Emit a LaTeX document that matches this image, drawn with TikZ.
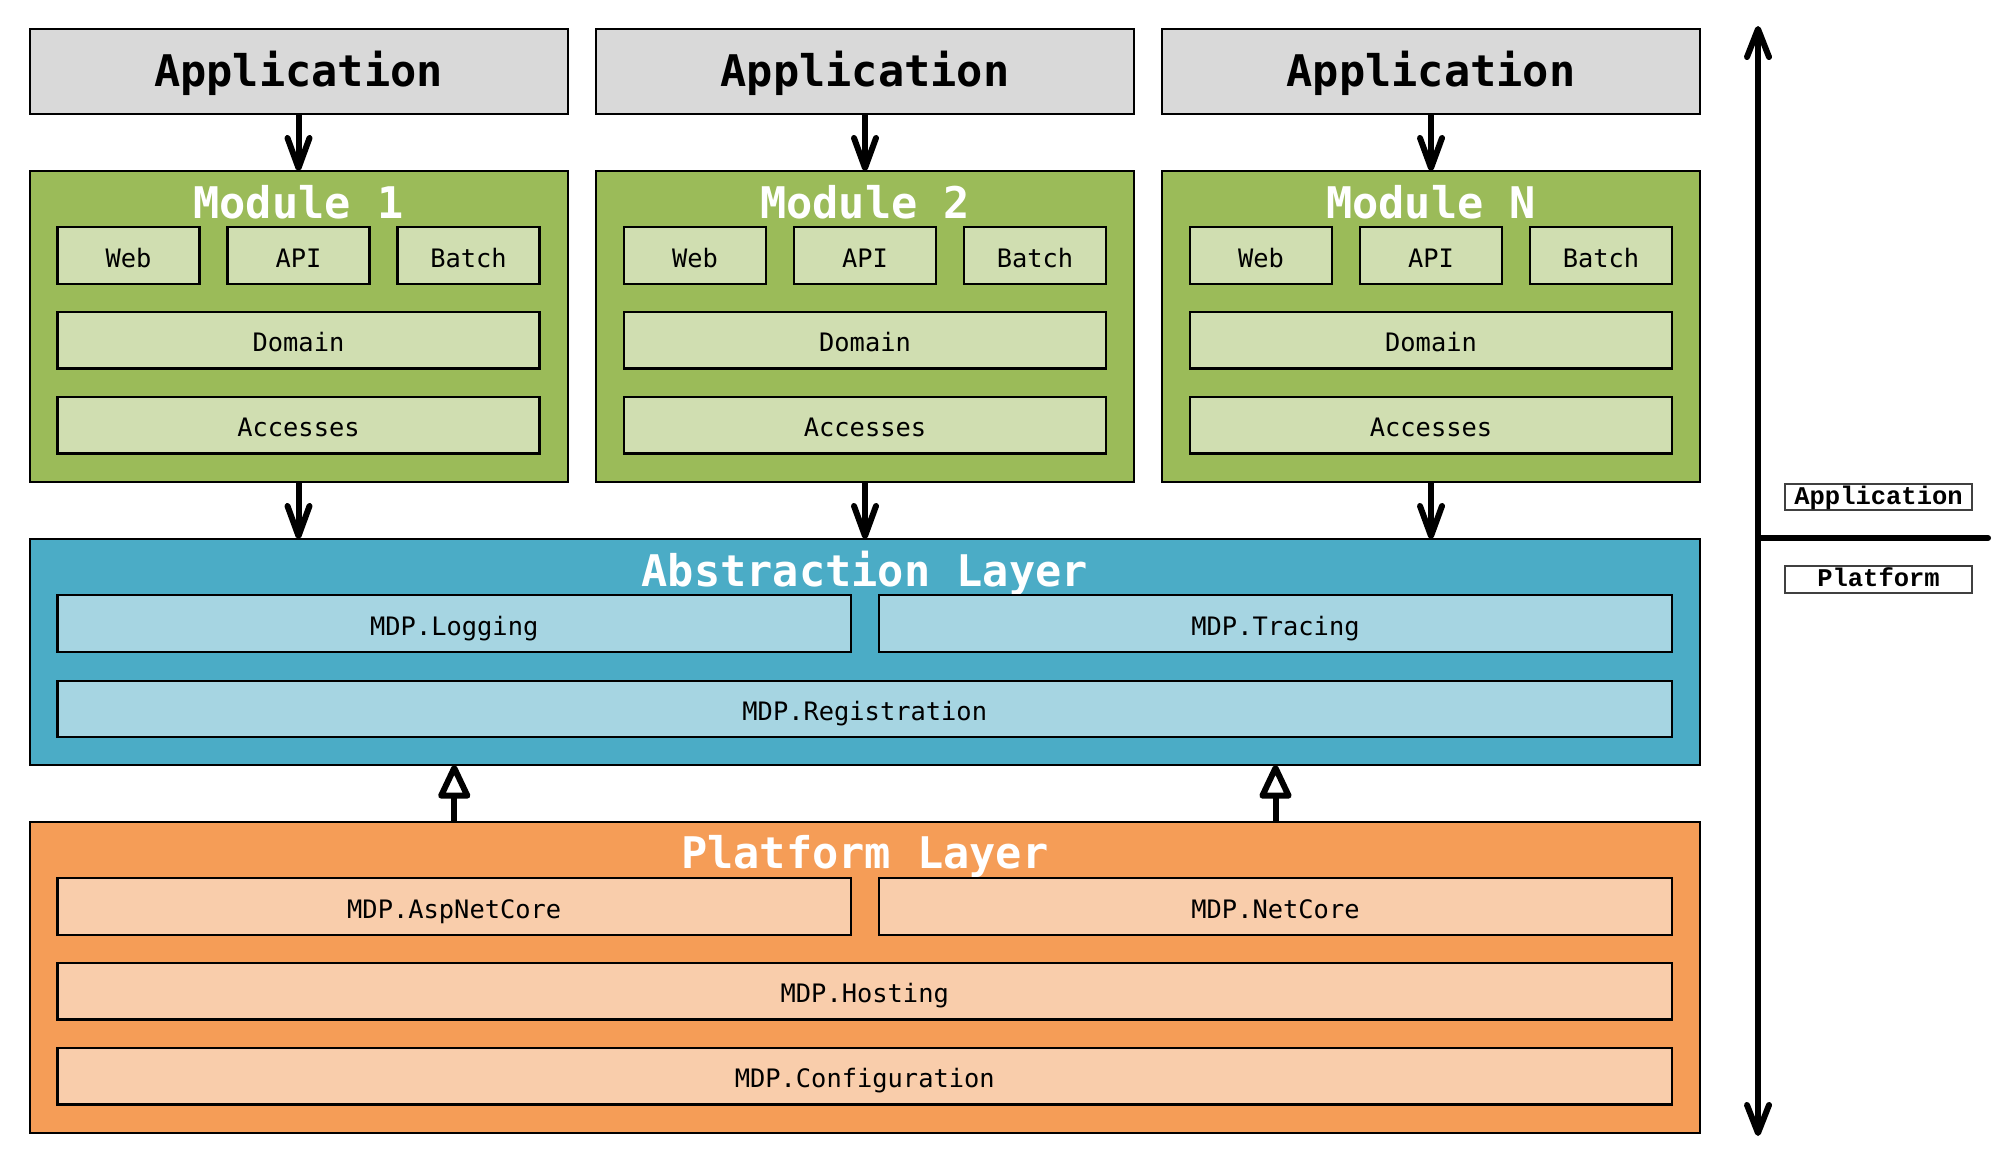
\documentclass[tikz,border=0pt]{standalone}
\usepackage{fontspec}
\setmonofont{DejaVu Sans Mono}
\newfontfamily\labfont{Liberation Mono}
\usetikzlibrary{arrows.meta}
\definecolor{appgray}{HTML}{D9D9D9}
\definecolor{modgreen}{HTML}{9BBB59}
\definecolor{modlight}{HTML}{D0DEB1}
\definecolor{absblue}{HTML}{4BACC6}
\definecolor{abslight}{HTML}{A6D5E2}
\definecolor{platorange}{HTML}{F59D57}
\definecolor{platlight}{HTML}{F9CDAB}
\newcommand{\mybox}[7]{%
  \pgfmathsetmacro\mbw{((#4)-(#2))*0.5}%
  \pgfmathsetmacro\mbh{((#5)-(#3))*0.5}%
  \pgfmathsetmacro\mbx{((#2)+(#4))/2}%
  \pgfmathsetmacro\mby{((#3)+(#5))/2}%
  \node[#6, minimum width=\mbw pt, minimum height=\mbh pt] (#1) at (\mbx,\mby) {#7};%
}
\tikzset{
  box/.style={draw=black, line width=1pt, rectangle, inner sep=0pt, outer sep=0pt},
  bigfont/.style={font=\ttfamily\bfseries\fontsize{21.8}{24}\selectfont},
  smallfont/.style={font=\ttfamily\fontsize{12.7}{15}\selectfont},
  appbox/.style={box, fill=appgray, bigfont, text height=15.9pt, text depth=0pt},
  modbox/.style={box, fill=modgreen},
  absbox/.style={box, fill=absblue},
  platbox/.style={box, fill=platorange},
  innerbox/.style={box, line width=1.15pt, smallfont, text height=11.6pt, text depth=0pt},
  modin/.style={innerbox, fill=modlight},
  absin/.style={innerbox, fill=abslight},
  platin/.style={innerbox, fill=platlight},
  titletext/.style={bigfont, text=white, anchor=base, inner sep=0pt},
  downarr/.style={line width=3pt, -{Straight Barb[length=15pt, width=11pt, line join=round, line cap=round]}},
  uparr/.style={line width=3pt, -{Triangle[open, length=19pt, width=17pt, line join=round]}},
  axisline/.style={line width=3pt, {Straight Barb[length=14pt, width=11pt, line join=round, line cap=round]}-{Straight Barb[length=14pt, width=11pt, line join=round, line cap=round]}},
  sidebox/.style={draw=black!75, line width=0.75pt, fill=white, rectangle, inner sep=0pt, outer sep=0pt,
    font=\labfont\bfseries\fontsize{12.75}{15}\selectfont, text height=7.3pt, text depth=0pt},
}
\begin{document}
\begin{tikzpicture}[x=0.5pt, y=-0.5pt]
\useasboundingbox (0,0) rectangle (2013,1162);
\foreach \i/\off/\lab in {1/0/1, 2/566.5/2, 3/1132.5/N}{
  \mybox{app\i}{\off+29.5}{28.5}{\off+567.5}{113.5}{appbox}{Application}
  \mybox{mod\i}{\off+29.5}{171}{\off+567.5}{482}{modbox}{}
  \node[titletext] (modt\i) at (\off+298.5,218) {Module \lab};
  \mybox{web\i}{\off+57.5}{227}{\off+199.5}{284}{modin}{Web}
  \mybox{api\i}{\off+227.5}{227}{\off+369.5}{284}{modin}{API}
  \mybox{bat\i}{\off+397.5}{227}{\off+539.5}{284}{modin}{Batch}
  \mybox{dom\i}{\off+57.5}{312}{\off+539.5}{368.5}{modin}{Domain}
  \mybox{acc\i}{\off+57.5}{397}{\off+539.5}{453.5}{modin}{Accesses}
}
% abstraction layer
\mybox{abs}{29.5}{539}{1700}{765}{absbox}{}
\node[titletext] (abst) at (864.75,586) {Abstraction Layer};
\mybox{log}{57.5}{595}{851}{652}{absin}{MDP.Logging}
\mybox{tra}{879}{595}{1672}{652}{absin}{MDP.Tracing}
\mybox{reg}{57.5}{681}{1672}{737}{absin}{MDP.Registration}
% platform layer
\mybox{plat}{29.5}{822}{1700}{1132.5}{platbox}{}
\node[titletext] (platt) at (864.75,868) {Platform Layer};
\mybox{asp}{57.5}{878}{851}{935}{platin}{MDP.AspNetCore}
\mybox{net}{879}{878}{1672}{935}{platin}{MDP.NetCore}
\mybox{hos}{57.5}{963}{1672}{1019.5}{platin}{MDP.Hosting}
\mybox{cfg}{57.5}{1048}{1672}{1104.5}{platin}{MDP.Configuration}
% arrows
\foreach \i in {1,2,3}{
  \draw[downarr] (app\i.south) -- (mod\i.north);
  \draw[downarr] (mod\i.south) -- (mod\i.south |- abs.north);
}
\draw[uparr] (log.south |- plat.north) -- (log.south |- abs.south);
\draw[uparr] (tra.south |- plat.north) -- (tra.south |- abs.south);
% side axis
\coordinate (axtop) at (1758,26);
\coordinate (axbot) at (1758,1136);
\coordinate (divl) at (1758,538);
\coordinate (divr) at (1988,538);
\draw[axisline] (axtop) -- (axbot);
\draw[line width=3pt, line cap=round] (divl) -- (divr);
\mybox{lapp}{1785}{484}{1972}{510}{sidebox}{Application}
\mybox{lplat}{1785}{566}{1972}{593}{sidebox}{Platform}
\end{tikzpicture}
\end{document}
